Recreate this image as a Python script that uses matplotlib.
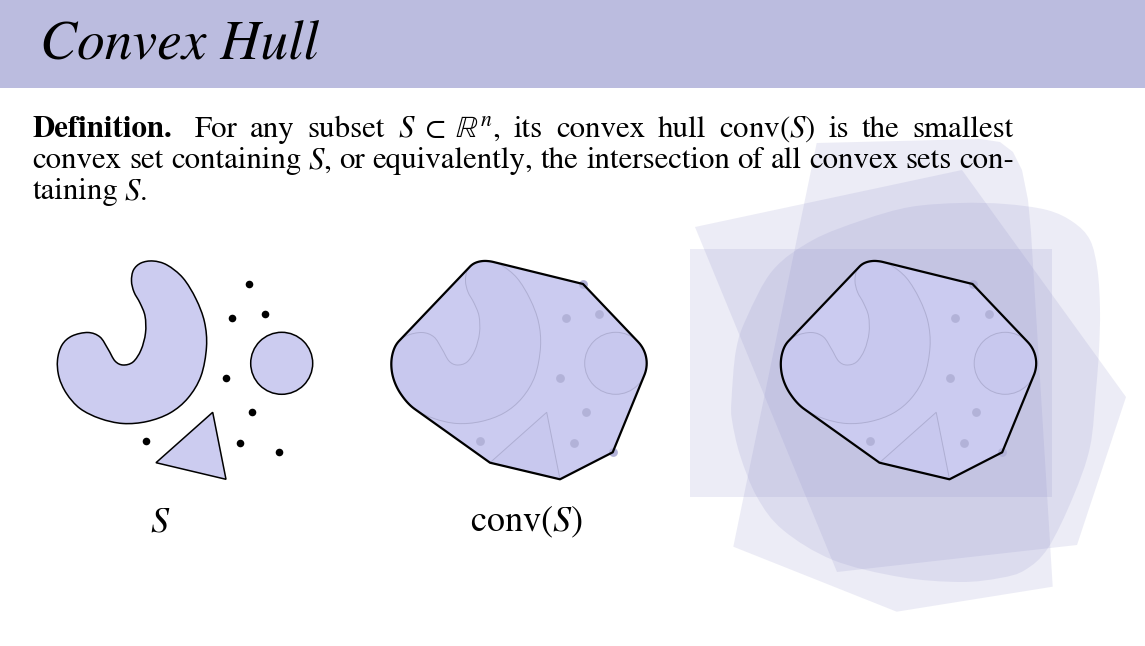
"""Slide: Convex Hull definition with the set S, conv(S) and the
intersection-of-convex-sets picture. Drawn in pixel coordinates."""
import numpy as np
import matplotlib

matplotlib.use("Agg")
import matplotlib.pyplot as plt
from matplotlib.path import Path
from matplotlib.patches import PathPatch, Polygon, Circle, Rectangle

plt.rcParams["font.family"] = ["STIXGeneral", "DejaVu Serif"]
plt.rcParams["mathtext.fontset"] = "stix"

# ---- text -------------------------------------------------------------
TITLE = "Convex Hull"
LINE1 = ["Definition.", "For", "any", "subset", r"$S\;\subset\;\mathbb{R}^n$,", "its",
         "convex", "hull", r"conv$(S)$", "is", "the", "smallest"]
LINE2 = ["convex", "set", "containing", r"$S$,", "or", "equivalently,", "the",
         "intersection", "of", "all", "convex", "sets", "con-"]
LINE3 = ["taining", r"$S$."]
LABELS = [r"$S$", r"conv$(S)$"]

# ---- the set S (left panel, pixel coords) ---------------------------------
BEAN_X = [153, 167, 183, 196, 204.5, 206.5, 201, 188, 170, 147, 123, 100, 80, 66.5,
          59, 57.5, 62, 72, 88, 100, 108, 115, 123, 133, 141, 145.5, 145, 140,
          134, 131.5, 133.5, 141]
BEAN_Y = [261, 265, 278, 299, 322, 347, 376, 398, 413, 421.5, 423.5, 418.5, 408.5, 393.5,
          377, 360, 345, 336, 332.5, 337, 349, 361, 365, 362, 350, 333, 316, 303,
          292, 281, 270, 263]
DISK_X, DISK_Y, DISK_R = 281.7, 363.3, 31
TRI_X = [212.7, 156, 226]
TRI_Y = [412.3, 462.7, 479.3]
DOT_X = [249, 231.7, 265.3, 226, 252.3, 146, 240.3, 278.7]
DOT_Y = [284, 318.3, 314, 378.3, 411.7, 440.7, 442.7, 452.3]
PANEL_SHIFT = [0, 334, 723.5]

# ---- convex sets containing S (right panel) -------------------------------
RECT_X = [690, 1052, 1052, 690]
RECT_Y = [249, 249, 497, 497]
HEX_X = [816.7, 980, 1000, 1013, 1022, 1028, 1031, 1052.7, 896.7, 733.3]
HEX_Y = [143, 139, 142, 152, 170, 200, 232, 586.7, 611.7, 546.7]
PENT_X = [695, 962, 1126, 1077, 837]
PENT_Y = [227, 170, 397, 545, 572]
BLOB_X = [731.5, 736, 747, 773, 813, 863, 910, 960, 1005, 1047, 1073, 1090, 1097.5,
          1100, 1099, 1096, 1090, 1073, 1048, 1025, 1000, 960, 900, 833, 783, 757,
          740, 732]
BLOB_Y = [400, 350, 317, 270, 240, 220, 207, 203, 204, 210, 222, 240, 270,
          310, 350, 390, 447, 497, 548, 570, 578, 582, 577, 560, 530, 497,
          455, 420]

BAR_COLOR = "#bbbcdf"
SET_FILL = "#ccccf0"
HULL_FILL = "#cbcbf0"
FADE_EDGE = "#aeaed2"
FADE_DOT = "#b2b2d8"
CONVEX_FILL = "#8c8cc8"


def smooth_closed(xs, ys):
    """Closed Catmull-Rom curve through the points, as cubic Bezier segments."""
    p = np.column_stack([xs, ys]).astype(float)
    n = len(p)
    verts, codes = [p[0]], [Path.MOVETO]
    segs = []
    for i in range(n):
        p0, p1, p2, p3 = p[i - 1], p[i], p[(i + 1) % n], p[(i + 2) % n]
        c1 = p1 + (p2 - p0) / 6
        c2 = p2 - (p3 - p1) / 6
        verts += [c1, c2, p2]
        codes += [Path.CURVE4] * 3
        segs.append((p1, c1, c2, p2))
    verts.append(p[0])
    codes.append(Path.CLOSEPOLY)
    return Path(verts, codes), segs


def sample_segs(segs, k=16):
    t = np.linspace(0, 1, k)[:, None]
    out = []
    for a, b, c, d in segs:
        out.append((1 - t) ** 3 * a + 3 * (1 - t) ** 2 * t * b + 3 * (1 - t) * t ** 2 * c + t ** 3 * d)
    return np.vstack(out)


def hull(points):
    pts = sorted(set(map(tuple, np.round(points, 3))))

    def cross(o, a, b):
        return (a[0] - o[0]) * (b[1] - o[1]) - (a[1] - o[1]) * (b[0] - o[0])

    lower, upper = [], []
    for q in pts:
        while len(lower) >= 2 and cross(lower[-2], lower[-1], q) <= 0:
            lower.pop()
        lower.append(q)
    for q in reversed(pts):
        while len(upper) >= 2 and cross(upper[-2], upper[-1], q) <= 0:
            upper.pop()
        upper.append(q)
    return np.array(lower[:-1] + upper[:-1])


fig = plt.figure(figsize=(11.45, 6.46), dpi=100)
ax = fig.add_axes([0, 0, 1, 1])
ax.set_xlim(0, 1145)
ax.set_ylim(646, 0)
ax.axis("off")

# title bar
ax.add_patch(Rectangle((0, 0), 1145, 87.5, color=BAR_COLOR, lw=0, zorder=1))
ax.text(40, 60, TITLE, fontsize=40, fontstyle="italic", va="baseline", ha="left", zorder=10)

# justified definition text
renderer = fig.canvas.get_renderer()


def place_line(tokens, y, x0, x1=None, fs=22.2, bold_first=False):
    texts = []
    for i, tok in enumerate(tokens):
        w = "bold" if (bold_first and i == 0) else "normal"
        texts.append(ax.text(0, y, tok, fontsize=fs, fontweight=w,
                             va="baseline", ha="left", zorder=10))
    widths = [t.get_window_extent(renderer).width for t in texts]
    em = fs * 100 / 72
    extra = [0.3 * em if (bold_first and i == 0) else 0 for i in range(len(tokens))]
    if x1 is None:
        gap = 0.2 * em
    else:
        gap = (x1 - x0 - sum(widths) - sum(extra)) / (len(tokens) - 1)
    x = x0
    for t, w, e in zip(texts, widths, extra):
        t.set_x(x)
        x += w + gap + e


place_line(LINE1, 136.7, 32.5, 1014, bold_first=True)
place_line(LINE2, 168.3, 32.5, 1014)
place_line(LINE3, 199.5, 32.5)

# right panel: convex sets containing S
for xs, ys in [(RECT_X, RECT_Y), (HEX_X, HEX_Y), (PENT_X, PENT_Y)]:
    ax.add_patch(Polygon(np.column_stack([xs, ys]), closed=True, facecolor=CONVEX_FILL,
                         alpha=0.16, lw=0, zorder=2))
blob_path, _ = smooth_closed(BLOB_X, BLOB_Y)
ax.add_patch(PathPatch(blob_path, facecolor=CONVEX_FILL, alpha=0.16, lw=0, zorder=2))

# hull of S
bean_path, bean_segs = smooth_closed(BEAN_X, BEAN_Y)
ang = np.linspace(0, 2 * np.pi, 90, endpoint=False)
pts = np.vstack([
    sample_segs(bean_segs),
    np.column_stack([DISK_X + DISK_R * np.cos(ang), DISK_Y + DISK_R * np.sin(ang)]),
    np.column_stack([TRI_X, TRI_Y]),
    np.column_stack([DOT_X, DOT_Y]),
])
hull_pts = hull(pts)


def draw_set(dx, faded):
    ec = FADE_EDGE if faded else "black"
    lw = 0.7 if faded else 1.1
    fc = (0.78, 0.78, 0.93, 0.55) if faded else SET_FILL
    z = 5
    bp = Path(bean_path.vertices + [dx, 0], bean_path.codes)
    ax.add_patch(PathPatch(bp, facecolor=fc, edgecolor=ec, lw=lw, zorder=z))
    ax.add_patch(Circle((DISK_X + dx, DISK_Y), DISK_R, facecolor=fc, edgecolor=ec, lw=lw, zorder=z))
    ax.add_patch(Polygon(np.column_stack([np.array(TRI_X) + dx, TRI_Y]), closed=True,
                         facecolor=fc, edgecolor=ec, lw=lw, zorder=z))
    ax.scatter(np.array(DOT_X) + dx, DOT_Y, s=30 if not faded else 40,
               color=FADE_DOT if faded else "black", lw=0, zorder=z + 1)


draw_set(PANEL_SHIFT[0], faded=False)
for dx in PANEL_SHIFT[1:]:
    ax.add_patch(Polygon(hull_pts + [dx, 0], closed=True, facecolor=HULL_FILL,
                         edgecolor="none", zorder=4))
    draw_set(dx, faded=True)
    ax.add_patch(Polygon(hull_pts + [dx, 0], closed=True, facecolor="none",
                         edgecolor="black", lw=1.6, joinstyle="round", zorder=8))

ax.text(160, 531, LABELS[0], fontsize=26, ha="center", va="baseline", zorder=10)
ax.text(526, 531, LABELS[1], fontsize=26, ha="center", va="baseline", zorder=10)

fig.savefig("out.png", dpi=100)
